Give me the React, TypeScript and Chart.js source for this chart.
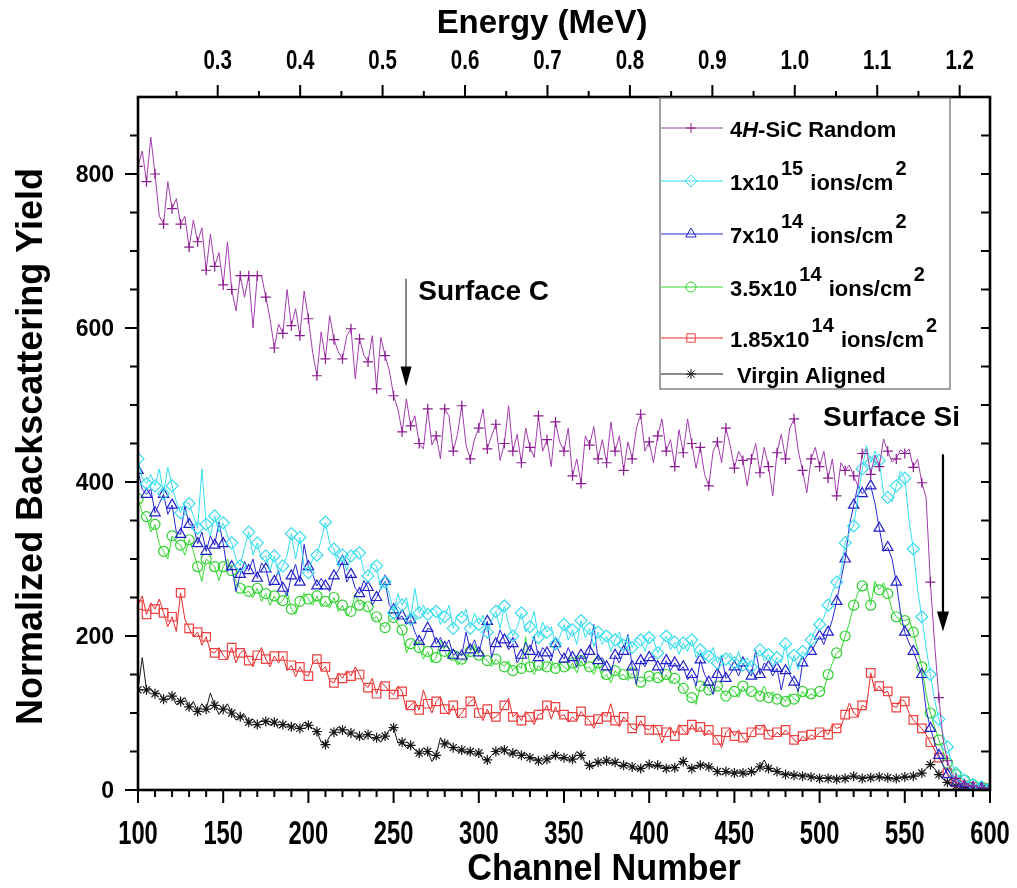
import { useEffect, useRef } from "react";
import { Chart, registerables } from "chart.js";
import { drawPoint } from "chart.js/helpers";

Chart.register(...registerables);

// Spectra sampled every 2.5 channels, from channel 100 to channel 600 (201 samples).
const CHANNEL_START = 100;
const CHANNEL_STEP = 2.5;

const RANDOM_4H_SIC = [
  810, 830, 790, 848, 800, 745, 735, 790, 755, 768, 735, 745, 705, 740, 712, 730, 675, 722, 680, 698,
  656, 712, 650, 622, 668, 640, 668, 600, 668, 668, 640, 612, 574, 605, 593, 650, 603, 625, 590, 648,
  612, 568, 538, 595, 560, 616, 585, 569, 560, 590, 599, 534, 586, 565, 556, 590, 521, 588, 564, 545,
  512, 495, 465, 508, 473, 486, 450, 443, 495, 448, 460, 430, 495, 486, 440, 462, 499, 448, 430, 456,
  470, 495, 443, 460, 475, 428, 450, 499, 440, 462, 425, 470, 445, 432, 486, 440, 455, 420, 478, 452,
  440, 470, 408, 430, 398, 460, 448, 472, 430, 455, 425, 478, 440, 460, 415, 452, 430, 470, 488, 440,
  452, 425, 460, 482, 440, 455, 420, 468, 438, 482, 450, 418, 445, 410, 395, 440, 452, 425, 470, 448,
  418, 440, 428, 395, 430, 450, 412, 445, 420, 382, 438, 462, 430, 470, 482, 440, 415, 386, 430, 445,
  420, 440, 405, 430, 382, 425, 415, 422, 408, 395, 437, 443, 410, 435, 420, 456, 440, 426, 430, 442,
  437, 443, 419, 430, 399, 380, 270, 190, 120, 65, 38, 22, 15, 12, 8, 6, 5, 4, 3, 2,
  2,
];

const DOSE_1E15 = [
  430, 405, 398, 410, 395, 417, 385, 419, 395, 374, 360, 374, 372, 356, 340, 417, 345, 330, 356, 335,
  347, 330, 321, 300, 291, 315, 335, 305, 321, 300, 304, 285, 304, 280, 291, 305, 333, 300, 328, 290,
  282, 300, 305, 325, 348, 320, 313, 290, 305, 285, 304, 312, 308, 285, 278, 295, 291, 260, 270, 255,
  230, 255, 240, 250, 222, 262, 230, 240, 228, 236, 232, 215, 225, 240, 210, 228, 224, 235, 210, 230,
  215, 227, 205, 220, 232, 210, 239, 215, 200, 211, 230, 205, 212, 232, 198, 218, 205, 212, 190, 199,
  215, 195, 208, 189, 220, 198, 210, 186, 205, 189, 200, 180, 195, 205, 188, 200, 185, 198, 195, 180,
  198, 195, 178, 190, 200, 182, 192, 176, 191, 180, 195, 172, 182, 168, 174, 185, 165, 176, 170, 178,
  165, 180, 162, 172, 160, 174, 182, 168, 176, 160, 172, 165, 190, 155, 175, 156, 180, 175, 195, 208,
  215, 224, 240, 258, 270, 282, 321, 335, 343, 380, 417, 447, 425, 440, 428, 385, 380, 374, 395, 414,
  405, 350, 313, 260, 225, 185, 150, 117, 92, 72, 56, 35, 22, 16, 13, 9, 7, 5, 4, 3,
  2,
];

const DOSE_7E14 = [
  415, 390, 384, 391, 360, 372, 384, 358, 370, 335, 332, 369, 345, 343, 320, 335, 310, 330, 318, 348,
  320, 284, 290, 258, 280, 297, 285, 300, 275, 295, 287, 265, 271, 285, 262, 252, 278, 293, 270, 319,
  290, 280, 265, 275, 265, 258, 278, 285, 297, 270, 280, 262, 255, 272, 263, 240, 250, 262, 271, 240,
  234, 222, 226, 215, 221, 205, 193, 195, 210, 208, 190, 198, 185, 195, 175, 180, 174, 205, 182, 195,
  178, 200, 219, 172, 190, 208, 195, 182, 190, 165, 175, 192, 180, 200, 172, 185, 178, 168, 190, 178,
  170, 185, 172, 159, 175, 165, 180, 215, 168, 172, 160, 150, 175, 165, 180, 202, 160, 137, 168, 160,
  172, 174, 160, 150, 168, 155, 165, 155, 160, 143, 150, 135, 169, 150, 140, 124, 150, 174, 145, 150,
  160, 148, 165, 155, 148, 182, 150, 165, 160, 148, 158, 130, 155, 150, 140, 128, 165, 174, 180, 189,
  200, 189, 205, 221, 245, 273, 300, 343, 370, 395, 385, 390, 395, 372, 340, 310, 315, 300, 270, 230,
  205, 191, 180, 165, 150, 105, 80, 62, 45, 32, 20, 13, 9, 6, 5, 4, 3, 3, 2, 2,
  2,
];

const DOSE_3_5E14 = [
  378, 360, 355, 335, 345, 319, 310, 300, 330, 322, 318, 305, 325, 310, 290, 271, 300, 295, 290, 272,
  290, 300, 285, 271, 262, 256, 258, 250, 262, 245, 255, 240, 252, 241, 246, 258, 235, 228, 245, 256,
  248, 240, 252, 238, 245, 236, 250, 232, 240, 226, 232, 255, 240, 245, 238, 222, 225, 215, 211, 220,
  224, 215, 208, 178, 190, 195, 185, 170, 180, 165, 172, 195, 180, 170, 175, 162, 170, 168, 180, 189,
  175, 172, 168, 160, 170, 165, 160, 168, 155, 162, 158, 199, 160, 150, 162, 155, 160, 169, 158, 165,
  160, 155, 165, 152, 168, 158, 160, 150, 165, 145, 150, 139, 155, 148, 150, 142, 152, 145, 140, 143,
  148, 143, 146, 140, 150, 138, 145, 139, 132, 121, 120, 111, 135, 140, 130, 125, 135, 130, 122, 132,
  128, 120, 135, 124, 128, 132, 122, 135, 120, 128, 118, 122, 115, 125, 118, 115, 128, 120, 125, 122,
  128, 130, 150, 165, 178, 182, 200, 217, 240, 256, 265, 268, 240, 271, 260, 269, 255, 234, 225, 221,
  220, 222, 205, 182, 160, 125, 100, 82, 65, 50, 35, 25, 20, 15, 13, 10, 7, 5, 4, 3,
  2,
];

const DOSE_1_85E14 = [
  240, 252, 228, 243, 235, 248, 230, 212, 225, 206, 256, 222, 210, 199, 205, 188, 199, 180, 178, 185,
  175, 169, 185, 165, 178, 182, 168, 160, 175, 185, 170, 160, 174, 165, 174, 155, 162, 147, 160, 150,
  148, 165, 170, 155, 160, 142, 139, 152, 145, 155, 148, 160, 150, 138, 133, 145, 125, 140, 135, 128,
  124, 135, 128, 104, 110, 115, 104, 130, 112, 100, 115, 121, 105, 98, 110, 94, 100, 108, 115, 119,
  100, 90, 105, 92, 95, 100, 110, 119, 95, 100, 90, 102, 95, 85, 98, 100, 110, 92, 108, 95,
  98, 88, 95, 90, 102, 95, 90, 80, 92, 100, 95, 112, 90, 82, 95, 88, 80, 78, 90, 80,
  78, 85, 78, 61, 75, 82, 70, 85, 78, 72, 85, 75, 82, 70, 78, 72, 65, 55, 75, 80,
  70, 78, 68, 62, 75, 82, 78, 85, 72, 68, 75, 70, 78, 72, 65, 61, 70, 65, 72, 68,
  75, 78, 72, 85, 80, 82, 98, 113, 100, 95, 110, 107, 152, 128, 135, 126, 128, 110, 107, 118,
  115, 100, 91, 85, 80, 72, 62, 52, 42, 32, 22, 14, 10, 8, 6, 5, 4, 3, 3, 2,
  2,
];

const VIRGIN_ALIGNED = [
  130, 172, 130, 132, 125, 126, 118, 117, 122, 111, 115, 120, 108, 115, 102, 112, 105, 126, 110, 98,
  105, 112, 100, 91, 95, 98, 88, 92, 85, 90, 89, 84, 88, 80, 85, 85, 82, 86, 80, 88,
  84, 80, 76, 62, 59, 70, 75, 82, 78, 72, 74, 68, 70, 65, 72, 66, 68, 62, 70, 78,
  81, 61, 62, 55, 58, 52, 48, 55, 50, 37, 45, 68, 60, 62, 55, 50, 52, 48, 50, 45,
  48, 40, 39, 45, 50, 55, 52, 45, 48, 52, 45, 48, 42, 40, 38, 33, 40, 42, 45, 40,
  42, 38, 40, 50, 45, 35, 32, 30, 36, 35, 38, 34, 36, 30, 32, 35, 30, 26, 28, 32,
  33, 30, 32, 30, 28, 30, 29, 35, 37, 30, 28, 30, 32, 34, 30, 28, 24, 20, 24, 22,
  22, 24, 22, 20, 24, 22, 30, 39, 28, 25, 24, 22, 20, 22, 19, 20, 18, 20, 17, 16,
  15, 16, 15, 17, 14, 16, 15, 17, 18, 16, 15, 17, 16, 18, 17, 15, 16, 14, 15, 16,
  17, 16, 18, 20, 22, 28, 33, 28, 20, 14, 10, 7, 5, 4, 3, 3, 2, 2, 2, 2,
  1,
];

// Axis ticks
const CHANNEL_TICKS = [100, 150, 200, 250, 300, 350, 400, 450, 500, 550, 600];
const CHANNEL_MINOR_STEP = 10;
const YIELD_MAX = 900;
const YIELD_TICKS = [0, 200, 400, 600, 800];
const YIELD_MINOR_STEP = 50;
const ENERGY_TICKS = [0.3, 0.4, 0.5, 0.6, 0.7, 0.8, 0.9, 1.0, 1.1, 1.2];
const ENERGY_LABELS = ["0.3", "0.4", "0.5", "0.6", "0.7", "0.8", "0.9", "1.0", "1.1", "1.2"];
// Energy calibration of the channel range (MeV at channel 100 and at channel 600)
const ENERGY_AT_FIRST_CHANNEL = 0.2033;
const ENERGY_AT_LAST_CHANNEL = 1.2368;

// Arrow annotations, in channel / yield units
const SURFACE_C = { channel: 257.3, from: 664, to: 524, textChannel: 264.5, textYield: 636 };
const SURFACE_SI = { channel: 572.4, from: 436, to: 206, textChannel: 502, textYield: 473 };

const FONT = '"Liberation Sans", Arial, Helvetica, sans-serif';

type Part = { t: string; s?: "i" | "sup" };

const SERIES = [
  {
    name: "4H-SiC Random",
    parts: [{ t: "4" }, { t: "H", s: "i" }, { t: "-SiC Random" }] as Part[],
    values: RANDOM_4H_SIC,
    line: "#a33cae",
    marker: "#8a1a90",
    style: "cross",
    radius: 5,
  },
  {
    name: "1x10^15 ions/cm^2",
    parts: [{ t: "1x10" }, { t: "15", s: "sup" }, { t: " ions/cm" }, { t: "2", s: "sup" }] as Part[],
    values: DOSE_1E15,
    line: "#30e0f0",
    marker: "#38dcee",
    style: "rectRot",
    radius: 6,
  },
  {
    name: "7x10^14 ions/cm^2",
    parts: [{ t: "7x10" }, { t: "14", s: "sup" }, { t: " ions/cm" }, { t: "2", s: "sup" }] as Part[],
    values: DOSE_7E14,
    line: "#2626d6",
    marker: "#2020c8",
    style: "triangle",
    radius: 6,
  },
  {
    name: "3.5x10^14 ions/cm^2",
    parts: [{ t: "3.5x10" }, { t: "14", s: "sup" }, { t: " ions/cm" }, { t: "2", s: "sup" }] as Part[],
    values: DOSE_3_5E14,
    line: "#30dc30",
    marker: "#30d030",
    style: "circle",
    radius: 5,
  },
  {
    name: "1.85x10^14 ions/cm^2",
    parts: [{ t: "1.85x10" }, { t: "14", s: "sup" }, { t: " ions/cm" }, { t: "2", s: "sup" }] as Part[],
    values: DOSE_1_85E14,
    line: "#ee2828",
    marker: "#ee4040",
    style: "rect",
    radius: 6,
  },
  {
    name: "Virgin Aligned",
    parts: [{ t: "Virgin Aligned" }] as Part[],
    values: VIRGIN_ALIGNED,
    line: "#151515",
    marker: "#151515",
    style: "star",
    radius: 5,
  },
];

function text(
  ctx: CanvasRenderingContext2D,
  str: string,
  x: number,
  y: number,
  size: number,
  align: CanvasTextAlign,
  squeeze = 1,
  rotate = 0
) {
  ctx.save();
  ctx.font = `bold ${size}px ${FONT}`;
  ctx.textAlign = align;
  ctx.textBaseline = "alphabetic";
  ctx.translate(x, y);
  if (rotate) ctx.rotate(rotate);
  ctx.scale(squeeze, 1);
  ctx.fillText(str, 0, 0);
  ctx.restore();
}

function arrow(ctx: CanvasRenderingContext2D, x: number, y0: number, y1: number, color: string, width: number, head: number, halfW: number) {
  ctx.save();
  ctx.strokeStyle = color;
  ctx.fillStyle = "#000";
  ctx.lineWidth = width;
  ctx.beginPath();
  ctx.moveTo(x, y0);
  ctx.lineTo(x, y1 - head + 2);
  ctx.stroke();
  ctx.beginPath();
  ctx.moveTo(x - halfW, y1 - head);
  ctx.lineTo(x + halfW, y1 - head);
  ctx.lineTo(x, y1);
  ctx.closePath();
  ctx.fill();
  ctx.restore();
}

const decorations = {
  id: "rbsDecorations",
  afterDatasetsDraw(chart: Chart) {
    const { ctx, chartArea: a, scales } = chart;
    const sx = scales.x;
    const sy = scales.y;
    const se = scales.energy;
    ctx.save();
    ctx.strokeStyle = "#000";
    ctx.fillStyle = "#000";

    // tick marks
    ctx.lineWidth = 2;
    ctx.beginPath();
    const cFirst = CHANNEL_TICKS[0];
    const cLast = CHANNEL_TICKS[CHANNEL_TICKS.length - 1];
    for (let c = cFirst; c <= cLast; c += CHANNEL_MINOR_STEP) {
      const px = sx.getPixelForValue(c);
      const major = CHANNEL_TICKS.includes(c);
      ctx.moveTo(px, a.bottom);
      ctx.lineTo(px, a.bottom + (major ? 13 : 7));
    }
    for (let v = 0; v < YIELD_MAX; v += YIELD_MINOR_STEP) {
      const py = sy.getPixelForValue(v);
      const major = YIELD_TICKS.includes(v);
      ctx.moveTo(a.left, py);
      ctx.lineTo(a.left - (major ? 13 : 8), py);
      if (v > 0) {
        ctx.moveTo(a.right, py);
        ctx.lineTo(a.right - 9, py);
      }
    }
    ENERGY_TICKS.forEach((e, i) => {
      const px = se.getPixelForValue(e);
      ctx.moveTo(px, a.top);
      ctx.lineTo(px, a.top - 12);
      const half = e - 0.05;
      if (half >= ENERGY_AT_FIRST_CHANNEL) {
        const hx = se.getPixelForValue(half);
        ctx.moveTo(hx, a.top);
        ctx.lineTo(hx, a.top - 6);
      }
      if (i === ENERGY_TICKS.length - 1 && e + 0.05 <= ENERGY_AT_LAST_CHANNEL) {
        const hx = se.getPixelForValue(e + 0.05);
        ctx.moveTo(hx, a.top);
        ctx.lineTo(hx, a.top - 6);
      }
    });
    ctx.stroke();

    // frame
    ctx.lineWidth = 2.6;
    ctx.strokeRect(a.left, a.top, a.right - a.left, a.bottom - a.top);

    // tick labels
    CHANNEL_TICKS.forEach((c) => text(ctx, String(c), sx.getPixelForValue(c), a.bottom + 54, 33, "center", 0.72));
    YIELD_TICKS.forEach((v) => text(ctx, String(v), a.left - 24, sy.getPixelForValue(v) + 8, 23, "right"));
    ENERGY_TICKS.forEach((e, i) => text(ctx, ENERGY_LABELS[i], se.getPixelForValue(e), a.top - 28, 27, "center", 0.76));

    // axis titles
    text(ctx, "Energy (MeV)", (a.left + a.right) / 2 - 22, a.top - 64, 34, "center", 0.97);
    text(ctx, "Channel Number", (a.left + a.right) / 2 + 40, a.bottom + 90, 36, "center", 0.95);
    text(ctx, "Normalized Backscattering Yield", 42, (a.top + a.bottom) / 2 + 3, 36, "center", 1, -Math.PI / 2);

    // annotations
    const cx = sx.getPixelForValue(SURFACE_C.channel);
    arrow(ctx, cx, sy.getPixelForValue(SURFACE_C.from), sy.getPixelForValue(SURFACE_C.to), "#666", 1.6, 20, 5.5);
    text(ctx, "Surface C", sx.getPixelForValue(SURFACE_C.textChannel), sy.getPixelForValue(SURFACE_C.textYield), 28, "left");
    const six = sx.getPixelForValue(SURFACE_SI.channel);
    arrow(ctx, six, sy.getPixelForValue(SURFACE_SI.from), sy.getPixelForValue(SURFACE_SI.to), "#000", 2.2, 20, 6);
    text(ctx, "Surface Si", sx.getPixelForValue(SURFACE_SI.textChannel), sy.getPixelForValue(SURFACE_SI.textYield), 28, "left");

    // legend
    const lx0 = 660;
    const lx1 = 950;
    const ly0 = a.top + 1;
    const ly1 = 389;
    ctx.fillStyle = "#fff";
    ctx.fillRect(lx0, ly0, lx1 - lx0, ly1 - ly0);
    ctx.strokeStyle = "#707070";
    ctx.lineWidth = 1.3;
    ctx.strokeRect(lx0, ly0, lx1 - lx0, ly1 - ly0);
    const rows = [31, 84, 137, 190, 241, 277];
    SERIES.forEach((s, i) => {
      const ry = a.top + rows[i];
      ctx.strokeStyle = s.line;
      ctx.lineWidth = 1;
      ctx.beginPath();
      ctx.moveTo(lx0 + 1, ry);
      ctx.lineTo(723, ry);
      ctx.stroke();
      ctx.strokeStyle = s.marker;
      ctx.fillStyle = "rgba(0,0,0,0)";
      drawPoint(ctx, { pointStyle: s.style as any, radius: s.radius, borderWidth: 1.2, rotation: 0 }, 691, ry);
      ctx.fillStyle = "#000";
      let tx = i === SERIES.length - 1 ? 737 : 730;
      const base = ry + 9;
      s.parts.forEach((p) => {
        if (p.s === "sup") {
          ctx.font = `bold 20px ${FONT}`;
          ctx.textAlign = "left";
          ctx.fillText(p.t, tx + 2, base - 15);
          tx += ctx.measureText(p.t).width + 3;
        } else {
          ctx.font = `${p.s === "i" ? "italic " : ""}bold 22px ${FONT}`;
          ctx.textAlign = "left";
          ctx.fillText(p.t, tx, base);
          tx += ctx.measureText(p.t).width;
        }
      });
    });
    ctx.restore();
  },
};

export default function App() {
  const canvasRef = useRef<HTMLCanvasElement | null>(null);

  useEffect(() => {
    document.body.style.margin = "0";
    const canvas = canvasRef.current;
    if (!canvas) return;
    const chart = new Chart(canvas, {
      type: "line",
      data: {
        datasets: SERIES.map((s) => ({
          label: s.name,
          data: s.values.map((v, i) => ({ x: CHANNEL_START + i * CHANNEL_STEP, y: v })),
          borderColor: s.line,
          borderWidth: 1,
          pointStyle: s.style as any,
          pointRadius: (c: any) => (c.dataIndex % 2 === 0 ? s.radius : 0),
          pointHoverRadius: 0,
          pointBorderColor: s.marker,
          pointBackgroundColor: "rgba(0,0,0,0)",
          pointBorderWidth: 1.2,
          tension: 0,
          fill: false,
        })),
      },
      options: {
        animation: false,
        responsive: false,
        devicePixelRatio: 1,
        parsing: false as any,
        layout: { padding: { left: 0, right: 27, top: 0, bottom: 0 } },
        plugins: { legend: { display: false }, tooltip: { enabled: false } },
        events: [],
        scales: {
          x: {
            type: "linear",
            position: "bottom",
            min: CHANNEL_TICKS[0],
            max: CHANNEL_TICKS[CHANNEL_TICKS.length - 1],
            grid: { display: false },
            border: { display: false },
            ticks: { display: false },
            afterFit: (s: any) => {
              s.height = 98;
            },
          },
          energy: {
            type: "linear",
            position: "top",
            min: ENERGY_AT_FIRST_CHANNEL,
            max: ENERGY_AT_LAST_CHANNEL,
            grid: { display: false },
            border: { display: false },
            ticks: { display: false },
            afterFit: (s: any) => {
              s.height = 97;
            },
          },
          y: {
            type: "linear",
            position: "left",
            min: 0,
            max: YIELD_MAX,
            grid: { display: false },
            border: { display: false },
            ticks: { display: false },
            afterFit: (s: any) => {
              s.width = 138;
            },
          },
        },
      },
      plugins: [decorations],
    });
    return () => chart.destroy();
  }, []);

  return <canvas ref={canvasRef} width={1017} height={888} style={{ display: "block" }} />;
}
